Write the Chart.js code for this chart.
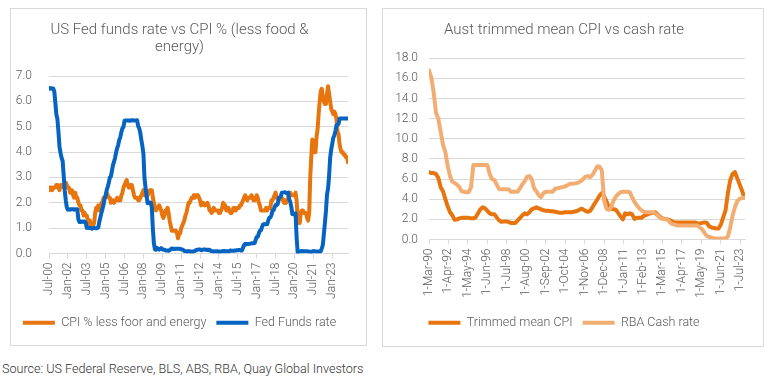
<!DOCTYPE html>
<html>
<head>
<meta charset="utf-8">
<script src="https://cdn.jsdelivr.net/npm/chart.js@4.4.1/dist/chart.umd.min.js"></script>
<style>
  body { margin: 0; background: #fff; width: 772px; height: 377px; position: relative; overflow: hidden; font-family: Roboto, "Noto Sans", sans-serif; }
  .panel { position: absolute; border: 1px solid #d9d9d9; background: #fff; }
  #p1 { left: 10px; top: 8px; width: 355px; height: 336px; }
  #p2 { left: 382px; top: 8px; width: 380px; height: 337px; }
  canvas { display: block; }
  #source { position: absolute; left: 2px; top: 361px; font-size: 12.6px; font-weight: 300; line-height: 16px; color: #333; white-space: nowrap; }
</style>
</head>
<body>
<div class="panel" id="p1"><canvas id="usChart" width="355" height="336"></canvas></div>
<div class="panel" id="p2"><canvas id="auChart" width="380" height="337"></canvas></div>
<div id="source">Source: US Federal Reserve, BLS, ABS, RBA, Quay Global Investors</div>
<script>
// US: monthly, Jul-2000 .. Apr-2024
const usTickLabels = ['Jul-00', 'Jan-02', 'Jul-03', 'Jan-05', 'Jul-06', 'Jan-08', 'Jul-09', 'Jan-11',
    'Jul-12', 'Jan-14', 'Jul-15', 'Jan-17', 'Jul-18', 'Jan-20', 'Jul-21', 'Jan-23'];

const usCoreCpi = [
    2.5, 2.6, 2.6, 2.5, 2.6, 2.6,
    2.6, 2.7, 2.7, 2.6, 2.5, 2.7, 2.7, 2.7, 2.6, 2.6, 2.8, 2.7,
    2.6, 2.6, 2.4, 2.5, 2.5, 2.3, 2.2, 2.4, 2.2, 2.2, 2.0, 1.9,
    1.9, 1.7, 1.7, 1.5, 1.6, 1.5, 1.5, 1.3, 1.2, 1.3, 1.1, 1.1,
    1.1, 1.2, 1.6, 1.8, 1.7, 1.9, 1.8, 1.7, 2.0, 2.0, 2.2, 2.2,
    2.3, 2.4, 2.3, 2.2, 2.2, 2.0, 2.1, 2.1, 2.0, 2.1, 2.1, 2.2,
    2.1, 2.1, 2.1, 2.3, 2.4, 2.6, 2.7, 2.8, 2.9, 2.7, 2.6, 2.6,
    2.7, 2.7, 2.5, 2.3, 2.2, 2.2, 2.2, 2.1, 2.1, 2.2, 2.3, 2.4,
    2.5, 2.3, 2.4, 2.3, 2.3, 2.4, 2.5, 2.5, 2.5, 2.2, 2.0, 1.8,
    1.7, 1.8, 1.8, 1.9, 1.8, 1.7, 1.5, 1.4, 1.5, 1.7, 1.7, 1.8,
    1.6, 1.3, 1.1, 0.9, 0.9, 0.9, 0.9, 0.9, 0.8, 0.6, 0.8, 0.8,
    1.0, 1.1, 1.2, 1.3, 1.5, 1.6, 1.8, 2.0, 2.0, 2.1, 2.2, 2.2,
    2.3, 2.2, 2.3, 2.3, 2.3, 2.2, 2.1, 1.9, 2.0, 2.0, 1.9, 1.9,
    1.9, 2.0, 1.9, 1.7, 1.7, 1.6, 1.7, 1.8, 1.7, 1.7, 1.7, 1.7,
    1.6, 1.6, 1.7, 1.8, 2.0, 1.9, 1.9, 1.7, 1.7, 1.8, 1.7, 1.6,
    1.6, 1.7, 1.8, 1.8, 1.7, 1.8, 1.8, 1.8, 1.9, 1.9, 2.0, 2.1,
    2.2, 2.3, 2.2, 2.1, 2.2, 2.2, 2.2, 2.3, 2.2, 2.1, 2.1, 2.2,
    2.3, 2.2, 2.0, 1.9, 1.7, 1.7, 1.7, 1.7, 1.7, 1.8, 1.7, 1.8,
    1.8, 1.8, 2.1, 2.1, 2.2, 2.3, 2.4, 2.2, 2.2, 2.1, 2.2, 2.2,
    2.2, 2.1, 2.0, 2.1, 2.0, 2.1, 2.2, 2.4, 2.4, 2.3, 2.3, 2.3,
    2.3, 2.4, 2.1, 1.4, 1.2, 1.2, 1.6, 1.7, 1.7, 1.6, 1.6, 1.6,
    1.4, 1.3, 1.6, 3.0, 3.8, 4.5, 4.3, 4.0, 4.0, 4.6, 4.9, 5.5,
    6.0, 6.4, 6.5, 6.2, 6.0, 5.9, 5.9, 6.3, 6.6, 6.3, 6.0, 5.7,
    5.6, 5.5, 5.6, 5.5, 5.3, 4.8, 4.7, 4.3, 4.1, 4.0, 4.0, 3.9,
    3.9, 3.8, 3.8, 3.6
];

const usFedFunds = [
    6.54, 6.50, 6.52, 6.51, 6.51, 6.40,
    5.98, 5.49, 5.31, 4.80, 4.21, 3.97, 3.77, 3.65, 3.07, 2.49, 2.09, 1.82,
    1.73, 1.74, 1.73, 1.75, 1.75, 1.75, 1.73, 1.74, 1.75, 1.75, 1.34, 1.24,
    1.24, 1.26, 1.25, 1.26, 1.26, 1.22, 1.01, 1.03, 1.01, 1.01, 1.00, 0.98,
    1.00, 1.01, 1.00, 1.00, 1.00, 1.03, 1.26, 1.43, 1.61, 1.76, 1.93, 2.16,
    2.28, 2.50, 2.63, 2.79, 3.00, 3.04, 3.26, 3.50, 3.62, 3.78, 4.00, 4.16,
    4.29, 4.49, 4.59, 4.79, 4.94, 4.99, 5.24, 5.25, 5.25, 5.25, 5.25, 5.24,
    5.25, 5.26, 5.26, 5.25, 5.25, 5.25, 5.26, 5.02, 4.94, 4.76, 4.49, 4.24,
    3.94, 2.98, 2.61, 2.28, 1.98, 2.00, 2.01, 2.00, 1.81, 0.97, 0.39, 0.16,
    0.15, 0.22, 0.18, 0.15, 0.18, 0.21, 0.16, 0.16, 0.15, 0.12, 0.12, 0.12,
    0.11, 0.13, 0.16, 0.20, 0.20, 0.18, 0.18, 0.19, 0.19, 0.19, 0.19, 0.18,
    0.17, 0.16, 0.14, 0.10, 0.09, 0.09, 0.07, 0.10, 0.08, 0.07, 0.08, 0.07,
    0.08, 0.10, 0.13, 0.14, 0.16, 0.16, 0.16, 0.13, 0.14, 0.16, 0.16, 0.16,
    0.14, 0.15, 0.14, 0.15, 0.11, 0.09, 0.09, 0.08, 0.08, 0.09, 0.08, 0.09,
    0.07, 0.07, 0.08, 0.09, 0.09, 0.10, 0.09, 0.09, 0.09, 0.09, 0.09, 0.12,
    0.11, 0.11, 0.11, 0.12, 0.12, 0.13, 0.13, 0.14, 0.14, 0.12, 0.12, 0.24,
    0.34, 0.38, 0.36, 0.37, 0.37, 0.38, 0.39, 0.40, 0.40, 0.40, 0.41, 0.54,
    0.65, 0.66, 0.79, 0.90, 0.91, 1.04, 1.15, 1.16, 1.15, 1.15, 1.16, 1.30,
    1.41, 1.42, 1.51, 1.69, 1.70, 1.82, 1.91, 1.91, 1.95, 2.19, 2.20, 2.27,
    2.40, 2.40, 2.41, 2.42, 2.39, 2.38, 2.40, 2.13, 2.04, 1.83, 1.55, 1.55,
    1.55, 1.58, 0.65, 0.05, 0.05, 0.08, 0.09, 0.10, 0.09, 0.09, 0.09, 0.09,
    0.09, 0.08, 0.07, 0.07, 0.06, 0.08, 0.10, 0.09, 0.08, 0.08, 0.08, 0.08,
    0.08, 0.08, 0.20, 0.33, 0.77, 1.21, 1.68, 2.33, 2.56, 3.08, 3.78, 4.10,
    4.33, 4.57, 4.65, 4.83, 5.06, 5.08, 5.12, 5.33, 5.33, 5.33, 5.33, 5.33,
    5.33, 5.33, 5.33, 5.33
];

// Australia: quarterly, Mar-1990 .. Dec-2023
const auTickLabels = ['1-Mar-90', '1-Apr-92', '1-May-94', '1-Jun-96', '1-Jul-98', '1-Aug-00', '1-Sep-02',
    '1-Oct-04', '1-Nov-06', '1-Dec-08', '1-Jan-11', '1-Feb-13', '1-Mar-15', '1-Apr-17', '1-May-19',
    '1-Jun-21', '1-Jul-23'];

const auTrimmedMean = [
    6.7, 6.6, 6.6, 6.5, 6.1, 5.2, 4.8, 4.0, 3.3, 2.7,
    2.4, 1.95, 2.0, 2.1, 2.15, 2.15, 2.15, 2.15, 2.1, 2.1,
    2.2, 2.6, 3.0, 3.2, 3.1, 2.85, 2.6, 2.5, 2.5, 2.2,
    1.9, 1.75, 1.8, 1.8, 1.75, 1.65, 1.65, 1.65, 1.9, 2.15,
    2.4, 2.6, 2.5, 2.7, 3.0, 3.1, 3.2, 3.1, 3.0, 2.9,
    2.85, 2.85, 2.8, 2.8, 2.75, 2.7, 2.65, 2.65, 2.7, 2.7,
    2.7, 2.7, 2.75, 2.8, 2.9, 3.05, 3.0, 2.85, 2.75, 2.85,
    3.2, 3.6, 3.95, 4.35, 4.6, 4.3, 3.8, 3.2, 3.05, 3.0,
    2.95, 2.65, 2.3, 2.0, 2.6, 2.5, 2.6, 2.5, 2.05, 2.15,
    2.15, 2.15, 2.35, 2.45, 2.55, 2.6, 2.65, 2.7, 2.45, 2.25,
    2.1, 2.05, 2.0, 1.95, 1.8, 1.7, 1.7, 1.7, 1.7, 1.7,
    1.7, 1.7, 1.7, 1.7, 1.7, 1.6, 1.6, 1.65, 1.7, 1.65,
    1.3, 1.2, 1.15, 1.1, 1.1, 1.5, 2.2, 2.9, 4.6, 5.9,
    6.5, 6.7, 6.1, 5.5, 4.9, 4.2
];

const auCashRate = [
    16.8, 16.1, 14.6, 12.6, 12.0, 10.7, 9.4, 8.7, 7.3, 6.3,
    5.75, 5.6, 5.45, 5.2, 4.8, 4.75, 4.7, 4.7, 5.2, 7.4,
    7.4, 7.4, 7.4, 7.4, 7.4, 7.4, 6.5, 6.0, 5.9, 5.45,
    5.0, 5.0, 5.0, 5.0, 5.0, 4.75, 4.75, 4.75, 4.75, 5.1,
    5.5, 5.8, 6.25, 6.3, 6.0, 5.1, 4.8, 4.4, 4.2, 4.6,
    4.75, 4.75, 4.75, 4.75, 5.05, 5.1, 5.15, 5.2, 5.25, 5.35,
    5.5, 5.55, 5.55, 5.6, 5.65, 5.8, 6.0, 6.25, 6.3, 6.2,
    6.4, 6.8, 7.25, 7.25, 6.9, 3.9, 3.05, 2.95, 3.2, 3.85,
    4.25, 4.5, 4.7, 4.75, 4.75, 4.75, 4.7, 4.2, 3.75, 3.4,
    3.1, 2.9, 2.75, 2.7, 2.7, 2.7, 2.7, 2.55, 2.35, 2.15,
    2.05, 2.0, 2.0, 1.75, 1.55, 1.5, 1.4, 1.4, 1.4, 1.4,
    1.4, 1.4, 1.4, 1.4, 1.4, 1.4, 1.2, 1.0, 0.65, 0.35,
    0.25, 0.2, 0.1, 0.1, 0.1, 0.1, 0.1, 0.1, 0.3, 1.2,
    2.35, 3.2, 3.8, 4.05, 4.1, 4.15
];

Chart.defaults.font.family = 'Roboto, "Noto Sans", sans-serif';
Chart.defaults.font.weight = 300;
Chart.defaults.color = '#595959';

function toPoints(values, step) {
    return values.map((v, i) => ({ x: i * step, y: v }));
}

function lineChart(id, cfg) {
    const n = cfg.series.length;
    return new Chart(document.getElementById(id), {
        type: 'line',
        data: {
            datasets: cfg.series.map((s, i) => ({
                label: s.label, data: s.data, borderColor: s.color, backgroundColor: s.color,
                borderWidth: 4, pointRadius: 0, tension: 0, fill: false,
                borderJoinStyle: 'round', borderCapStyle: 'round', order: n - i
            }))
        },
        options: {
            responsive: false, animation: false,
            layout: { padding: { left: 0, right: 18, top: 0, bottom: cfg.bottomPad } },
            plugins: {
                title: {
                    display: true, text: cfg.title, color: '#595959',
                    font: { size: 15, weight: 300, lineHeight: 1.17 },
                    padding: { top: 12.25, bottom: cfg.titleGap }
                },
                legend: {
                    position: 'bottom',
                    labels: {
                        usePointStyle: true, pointStyle: 'line', pointStyleWidth: 32, padding: 10,
                        color: '#595959', font: { size: 12.5 },
                        sort: (a, b) => a.datasetIndex - b.datasetIndex
                    }
                },
                tooltip: { enabled: false }
            },
            scales: {
                x: {
                    type: 'linear', min: 0, max: cfg.xMax,
                    afterFit: s => { s.height = cfg.xHeight; },
                    afterBuildTicks: s => { s.ticks = cfg.tickLabels.map((_, k) => ({ value: k * cfg.tickStep })); },
                    ticks: { autoSkip: false, minRotation: 90, maxRotation: 90, padding: 4, font: { size: 12 },
                        callback: (v, i) => cfg.tickLabels[i] },
                    grid: { drawOnChartArea: false, drawTicks: true, tickLength: 5, color: '#d9d9d9' },
                    border: { color: '#d9d9d9' }
                },
                y: {
                    min: 0, max: cfg.yMax,
                    afterFit: s => { s.width = cfg.yWidth; },
                    ticks: { stepSize: cfg.yStep, padding: cfg.yPad, font: { size: 12 }, callback: v => v.toFixed(1) },
                    grid: { color: '#d9d9d9', drawTicks: false },
                    border: { display: false }
                }
            }
        }
    });
}

lineChart('usChart', {
    title: ['US Fed funds rate vs CPI % (less food &', 'energy)'],
    series: [
        { label: 'CPI % less foor and energy', data: toPoints(usCoreCpi, 1), color: '#e8740e' },
        { label: 'Fed Funds rate', data: toPoints(usFedFunds, 1), color: '#0563c1' }
    ],
    tickLabels: usTickLabels, tickStep: 18, xMax: 285,
    yMax: 7, yStep: 1, yWidth: 38, yPad: 17, xHeight: 53, bottomPad: 6, titleGap: 19.75
});

lineChart('auChart', {
    title: 'Aust trimmed mean CPI vs cash rate',
    series: [
        { label: 'Trimmed mean CPI', data: toPoints(auTrimmedMean, 3), color: '#e8740e' },
        { label: 'RBA Cash rate', data: toPoints(auCashRate, 3), color: '#f2ae72' }
    ],
    tickLabels: auTickLabels, tickStep: 25, xMax: 406,
    yMax: 18, yStep: 2, yWidth: 46, yPad: 11, xHeight: 67, bottomPad: 7, titleGap: 19.55
});
</script>
</body>
</html>
